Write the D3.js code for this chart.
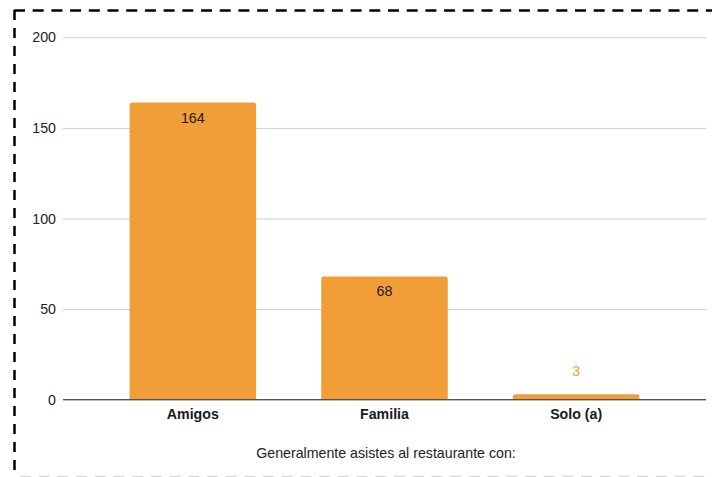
<!DOCTYPE html>
<html>
<head>
<meta charset="utf-8">
<script src="https://cdn.jsdelivr.net/npm/d3@7"></script>
<style>
  html, body { margin: 0; padding: 0; background: #fff; }
  svg { display: block; font-family: "Liberation Sans", Arial, sans-serif; }
</style>
</head>
<body>
<svg id="chart" width="712" height="477"></svg>
<script>
// Respuestas: "Generalmente asistes al restaurante con:"
const categories = ["Amigos", "Familia", "Solo (a)"];
const counts = [164, 68, 3];
const yTicks = [0, 50, 100, 150, 200];
const xTitle = "Generalmente asistes al restaurante con:";

const svg = d3.select("#chart");
const W = 712, H = 477;
const barColor = "#f19e38";
const fontSize = 14.2;

// Dashed frame around the card
svg.append("line").attr("x1", 14).attr("x2", W).attr("y1", 10.5).attr("y2", 10.5)
  .attr("stroke", "#000").attr("stroke-width", 2.5).attr("stroke-dasharray", "11,7.7");
svg.append("line").attr("x1", 14.5).attr("x2", 14.5).attr("y1", 10).attr("y2", H)
  .attr("stroke", "#000").attr("stroke-width", 2.5).attr("stroke-dasharray", "10,8");
svg.append("line").attr("x1", 20).attr("x2", W).attr("y1", 476.5).attr("y2", 476.5)
  .attr("stroke", "#d6d6d6").attr("stroke-width", 1.5).attr("stroke-dasharray", "11,7.7");

const plotLeft = 63, plotRight = 706;
const y = d3.scaleLinear().domain([0, 200]).range([399.7, 37.3]);
const x = d3.scaleBand().domain(categories).range([97, 672])
  .paddingInner(0.34).paddingOuter(0.17);

// Gridlines and value labels
const yAxis = d3.axisLeft(y).tickValues(yTicks).tickSize(-(plotRight - plotLeft)).tickPadding(7);
const gy = svg.append("g").attr("transform", `translate(${plotLeft},0)`).call(yAxis);
gy.select(".domain").remove();
gy.selectAll(".tick line").attr("stroke", "#cccccc").attr("stroke-width", 1);
gy.selectAll(".tick text").attr("fill", "#222").attr("font-size", fontSize)
  .attr("font-family", "'Liberation Sans', Arial, sans-serif");

// Bars with slightly rounded tops
const r = 2.5;
svg.append("g").selectAll("path").data(categories).join("path")
  .attr("fill", barColor)
  .attr("d", (c, i) => {
    const x0 = x(c), x1 = x(c) + x.bandwidth();
    const yt = y(counts[i]), yb = y(0);
    return `M${x0},${yb}V${yt + r}Q${x0},${yt} ${x0 + r},${yt}H${x1 - r}Q${x1},${yt} ${x1},${yt + r}V${yb}Z`;
  });

// Baseline
svg.append("line").attr("x1", plotLeft).attr("x2", plotRight)
  .attr("y1", y(0)).attr("y2", y(0)).attr("stroke", "#555").attr("stroke-width", 1.2);

// Data labels: inside tall bars, above short ones
svg.append("g").selectAll("text").data(categories).join("text")
  .attr("x", c => x(c) + x.bandwidth() / 2)
  .attr("y", (c, i) => {
    const inside = y(0) - y(counts[i]) > 30;
    return inside ? y(counts[i]) + 20 : y(counts[i]) - 18;
  })
  .attr("text-anchor", "middle").attr("font-size", fontSize)
  .attr("fill", (c, i) => (y(0) - y(counts[i]) > 30 ? "#1a1a1a" : barColor))
  .text((c, i) => counts[i]);

// Category axis
const xAxis = d3.axisBottom(x).tickSize(0).tickPadding(9);
const gx = svg.append("g").attr("transform", `translate(0,${y(0)})`).call(xAxis);
gx.select(".domain").remove();
gx.selectAll(".tick text").attr("fill", "#1a1a1a").attr("font-size", fontSize)
  .attr("font-weight", "bold").attr("font-family", "'Liberation Sans', Arial, sans-serif");

// Axis title
svg.append("text").attr("x", 386).attr("y", 458).attr("text-anchor", "middle")
  .attr("font-size", fontSize).attr("fill", "#222").text(xTitle);
</script>
</body>
</html>
